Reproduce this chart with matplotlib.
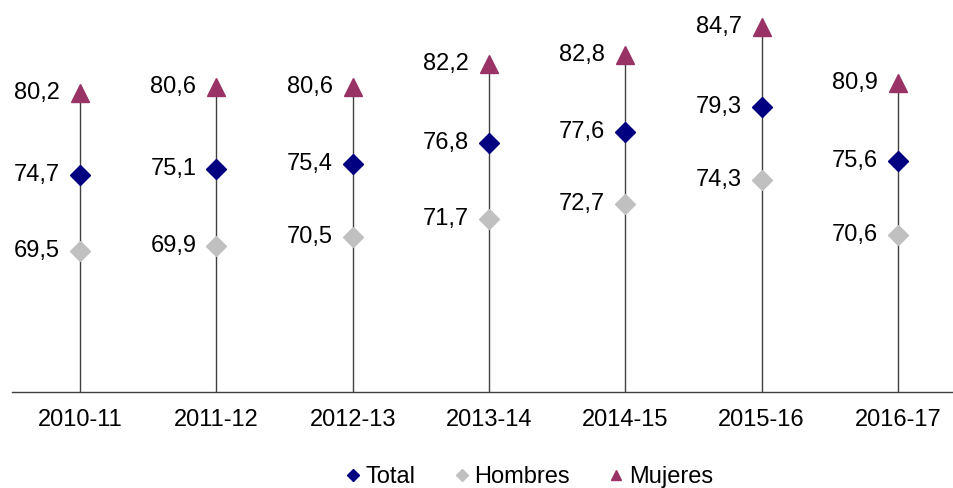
import matplotlib
matplotlib.use("Agg")
import matplotlib.pyplot as plt

plt.rcParams["font.family"] = ["Liberation Sans", "DejaVu Sans"]

cursos = ["2010-11", "2011-12", "2012-13", "2013-14", "2014-15", "2015-16", "2016-17"]
total = [74.7, 75.1, 75.4, 76.8, 77.6, 79.3, 75.6]
hombres = [69.5, 69.9, 70.5, 71.7, 72.7, 74.3, 70.6]
mujeres = [80.2, 80.6, 80.6, 82.2, 82.8, 84.7, 80.9]

c_total = "#000080"
c_hombres = "#C0C0C0"
c_mujeres = "#993366"

FS = 17

W, H = 954, 488
fig = plt.figure(figsize=(W / 100, H / 100), dpi=100)
ax = fig.add_axes([12 / W, (H - 392) / H, (966 - 12) / W, 392 / H])

x = list(range(len(cursos)))
ymin = 60
ax.set_ylim(ymin, 86.5)
ax.set_xlim(-0.5, len(cursos) - 0.5)

# stems from the axis up to the highest value
ax.vlines(x, ymin, mujeres, color="#404040", lw=1.0, zorder=1)

ax.plot(x, hombres, ls="none", marker="D", ms=10, color=c_hombres, mec=c_hombres, label="Hombres", zorder=3)
ax.plot(x, total, ls="none", marker="D", ms=10, color=c_total, mec=c_total, label="Total", zorder=3)
ax.plot(x, mujeres, ls="none", marker="^", ms=13, color=c_mujeres, mec=c_mujeres, label="Mujeres", zorder=3)

fmt = lambda v: f"{v:.1f}".replace(".", ",")
for serie in (total, hombres, mujeres):
    for xi, v in zip(x, serie):
        ax.annotate(fmt(v), (xi, v), xytext=(-20, 0), textcoords="offset pixels",
                    ha="right", va="center", fontsize=FS, color="#000000")

ax.set_xticks(x)
ax.set_xticklabels(cursos, fontsize=FS)
ax.tick_params(axis="x", length=0, pad=12)
ax.set_yticks([])
for s in ("top", "right", "left"):
    ax.spines[s].set_visible(False)
ax.spines["bottom"].set_color("#404040")
ax.spines["bottom"].set_linewidth(1.0)

h, l = ax.get_legend_handles_labels()
order = [l.index("Total"), l.index("Hombres"), l.index("Mujeres")]
fig.legend([h[i] for i in order], [l[i] for i in order], loc="center",
           bbox_to_anchor=(530 / W, 1 - 477 / H), ncol=3, frameon=False,
           fontsize=FS, markerscale=0.6, handlelength=0.5, handletextpad=0.3,
           columnspacing=1.7, borderpad=0)

fig.savefig("out.png", dpi=100)
